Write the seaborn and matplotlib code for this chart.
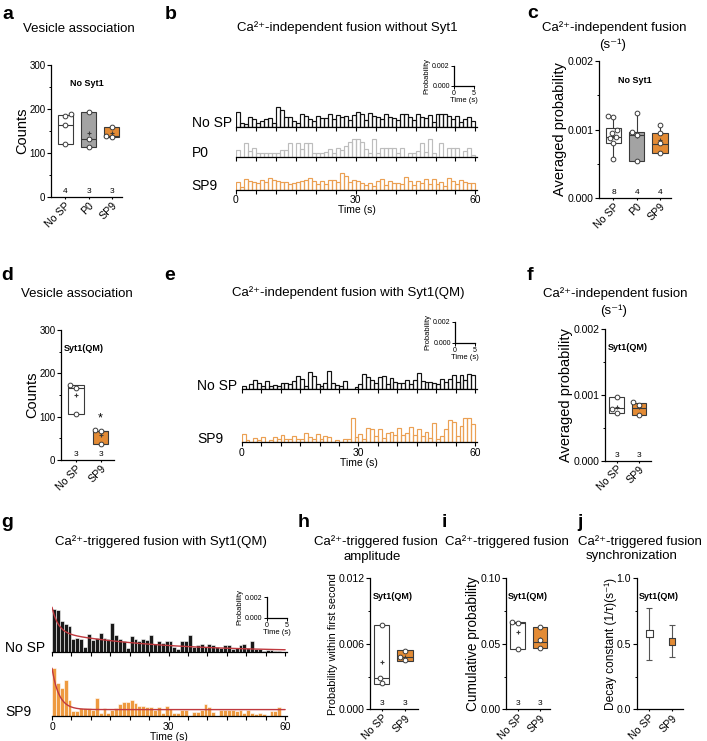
import numpy as np
import pandas as pd
import matplotlib
matplotlib.use("Agg")
import matplotlib.pyplot as plt
from matplotlib.ticker import FormatStrFormatter, MultipleLocator
import seaborn as sns

sns.set_theme(style="ticks")
plt.rcParams["font.family"] = ["Liberation Sans", "DejaVu Sans"]
plt.rcParams.update({
    "axes.edgecolor": "black",
    "axes.linewidth": 0.9,
    "text.color": "black",
    "axes.labelcolor": "black",
    "xtick.color": "black",
    "ytick.color": "black",
})

# ---------------- data ----------------
groups3 = ["No SP", "P0", "SP9"]
groups2 = ["No SP", "SP9"]
seconds = np.arange(60)

# box stats: (whisker low, q1, median, q3, whisker high, mean)
a_stats = [(121, 121, 163, 187, 187, 163), (114, 114, 132, 193, 193, 146), (136, 136, 139, 160, 160, 145)]
a_points = [[121, 163, 185, 188], [114, 132, 193], [136, 139, 160]]
a_n = [4, 3, 3]

c_stats = [(0.00057, 0.00080, 0.00089, 0.00102, 0.00120, 0.00090),
           (0.00054, 0.00054, 0.00092, 0.00097, 0.00124, 0.00090),
           (0.00066, 0.00066, 0.00079, 0.00095, 0.00106, 0.00085)]
c_points = [[0.00057, 0.00080, 0.00087, 0.00089, 0.00095, 0.00100, 0.00118, 0.00120],
            [0.00054, 0.00092, 0.00097, 0.00124],
            [0.00066, 0.00080, 0.00095, 0.00106]]
c_n = [8, 4, 4]

d_stats = [(107, 107, 167, 172, 172, 149), (38, 38, 66, 68, 68, 58)]
d_points = [[107, 167, 172], [38, 66, 69]]
d_n = [3, 3]

f_stats = [(0.00072, 0.00072, 0.00080, 0.00097, 0.00097, 0.00082),
           (0.00070, 0.00070, 0.00080, 0.00088, 0.00088, 0.00081)]
f_points = [[0.00072, 0.00078, 0.00097], [0.00070, 0.00085, 0.00089]]
f_n = [3, 3]

h_stats = [(0.0023, 0.0023, 0.0029, 0.0077, 0.0077, 0.0043), (0.0044, 0.0044, 0.0048, 0.0054, 0.0054, 0.0048)]
h_points = [[0.0024, 0.0029, 0.0077], [0.0045, 0.0048, 0.0053]]
h_n = [3, 3]

i_stats = [(0.046, 0.046, 0.066, 0.067, 0.067, 0.059), (0.047, 0.047, 0.051, 0.063, 0.063, 0.054)]
i_points = [[0.046, 0.066, 0.067], [0.047, 0.053, 0.063]]
i_n = [3, 3]

j_mean = [0.577, 0.516]
j_low = [0.376, 0.397]
j_high = [0.770, 0.644]

# per-second fusion probabilities (x 1e-3)
b_nosp = [1.55, 0.45, 0.3, 1.0, 0.8, 0.45, 0.6, 0.85, 0.9, 0.45, 2.0, 1.7, 1.0, 1.0, 0.6, 0.45, 1.3, 1.15, 0.8, 0.6,
          1.1, 0.9, 0.9, 1.3, 0.8, 1.25, 1.0, 1.1, 0.7, 1.2, 1.5, 1.3, 0.7, 1.45, 1.1, 1.0, 0.8, 1.3, 1.0, 0.9,
          0.7, 1.3, 1.3, 1.0, 0.7, 1.35, 1.0, 0.9, 1.2, 0.5, 1.3, 1.35, 1.35, 1.1, 0.8, 1.1, 0.5, 0.8, 1.0, 0.6]
b_p0 = [0.7, 0.0, 1.4, 0.6, 0.9, 0.4, 0.4, 0.4, 0.4, 0.4, 0.4, 0.7, 0.7, 1.4, 0.0, 1.4, 0.8, 1.4, 1.4, 0.4,
        0.4, 0.4, 0.5, 0.8, 0.4, 0.9, 0.7, 1.1, 1.5, 1.8, 1.8, 1.5, 0.8, 0.4, 1.8, 0.4, 0.9, 0.9, 0.9, 0.9,
        0.4, 0.9, 0.0, 0.4, 0.4, 0.6, 1.4, 0.5, 1.8, 0.4, 0.0, 1.4, 0.0, 0.9, 0.9, 0.9, 0.0, 0.6, 0.9, 0.2]
b_sp9 = [0.8, 0.3, 1.1, 0.9, 0.8, 0.7, 1.0, 0.8, 1.2, 1.0, 0.9, 0.8, 0.8, 0.6, 0.7, 0.8, 0.9, 1.0, 1.2, 0.9,
         0.6, 0.9, 0.6, 1.0, 1.0, 0.8, 1.7, 1.4, 0.8, 1.0, 0.9, 0.7, 0.5, 0.7, 0.4, 0.9, 1.1, 0.5, 0.9, 0.7,
         0.7, 0.6, 1.3, 0.9, 0.5, 0.9, 0.7, 1.1, 0.6, 1.1, 0.6, 0.8, 0.4, 1.2, 0.9, 0.6, 1.0, 0.8, 0.7, 0.7]

e_nosp = [0.3, 0.0, 0.5, 0.85, 0.6, 0.3, 0.8, 0.3, 0.4, 0.3, 0.6, 0.6, 0.5, 0.8, 1.3, 1.0, 0.3, 1.65, 1.3, 0.5,
          0.3, 0.6, 1.7, 0.6, 0.4, 0.3, 0.8, 0.0, 0.0, 0.2, 0.5, 1.5, 1.2, 0.9, 0.6, 1.2, 1.3, 0.5, 1.1, 0.7,
          0.6, 0.6, 0.9, 0.5, 0.9, 1.6, 0.8, 0.7, 0.7, 0.6, 0.5, 1.0, 0.7, 1.0, 1.4, 0.7, 1.4, 0.9, 1.5, 1.4]
e_sp9 = [0.8, 0.2, 0.0, 0.4, 0.2, 0.5, 0.0, 0.2, 0.5, 0.3, 0.7, 0.3, 0.3, 0.6, 0.3, 0.3, 0.9, 0.5, 0.3, 0.8,
         0.3, 0.6, 0.5, 0.0, 0.2, 0.0, 0.3, 0.3, 2.3, 0.5, 0.8, 0.3, 1.3, 1.2, 0.6, 1.2, 0.4, 0.9, 1.0, 0.7,
         1.3, 0.7, 0.9, 1.4, 0.7, 1.2, 0.6, 1.0, 0.4, 1.8, 0.3, 0.6, 1.2, 2.1, 1.9, 0.6, 1.5, 2.3, 2.3, 1.7]

g_nosp = [4.1, 4.0, 3.0, 2.7, 2.5, 1.2, 1.3, 1.2, 0.5, 1.7, 1.1, 1.3, 1.8, 1.3, 1.2, 2.8, 1.6, 1.2, 1.0, 0.4,
          1.5, 1.2, 1.0, 1.2, 1.1, 1.6, 0.7, 1.0, 0.8, 1.0, 1.0, 0.5, 0.3, 1.0, 1.0, 1.6, 0.5, 0.6, 0.7, 0.5,
          0.7, 0.6, 0.5, 0.4, 0.6, 0.6, 0.3, 0.4, 0.6, 0.7, 0.4, 1.0, 0.3, 0.3, 0.1, 0.2, 0.2, 0.1, 0.1, 0.0]
g_sp9 = [4.6, 3.2, 2.7, 3.5, 1.5, 0.5, 0.5, 0.8, 0.8, 0.8, 0.6, 1.7, 0.3, 0.8, 0.3, 0.6, 0.8, 1.2, 1.4, 1.4,
         1.5, 1.3, 1.0, 1.0, 0.9, 0.9, 0.6, 0.9, 0.3, 1.0, 0.7, 0.3, 0.3, 0.6, 0.6, 0.0, 0.4, 0.4, 0.6, 1.2,
         0.9, 0.4, 0.0, 0.6, 0.6, 0.6, 0.6, 0.5, 0.6, 0.3, 0.6, 0.3, 0.2, 0.3, 0.2, 0.0, 0.5, 0.5, 0.9, 0.0]

# exponential fits drawn in g (x 1e-3)
g_nosp_fit = dict(a_fast=2.4, tau_fast=1.6, a_slow=1.9, tau_slow=26.0, base=0.0)
g_sp9_fit = dict(a_fast=4.0, tau_fast=1.8, a_slow=0.0, tau_slow=1.0, base=0.62)

# ---------------- styling ----------------
EDGE = "#3a3a3a"
ORANGE = "#E38B35"
GREY = "#A3A3A3"
RED = "#C0393F"
W, H = 707, 741

fig = plt.figure(figsize=(W / 100, H / 100), dpi=100)


def px_box(l, t, r, b):
    return [l / W, 1 - b / H, (r - l) / W, (b - t) / H]


def ftext(x, y, s, **kw):
    fig.text(x / W, 1 - y / H, s, **kw)


def style_cat_axes(ax, groups, ylim, step, fmt, ylabel, ylsize, tsize):
    ax.set_ylim(*ylim)
    ax.yaxis.set_major_locator(MultipleLocator(step))
    ax.yaxis.set_minor_locator(MultipleLocator(step / 2))
    ax.yaxis.set_major_formatter(FormatStrFormatter(fmt))
    ax.set_xticks(range(len(groups)))
    ax.set_xticklabels(groups, rotation=45, ha="right", rotation_mode="anchor", fontsize=7.6)
    ax.tick_params(axis="y", which="major", length=3, width=0.8, labelsize=tsize, pad=1)
    ax.tick_params(axis="y", which="minor", length=1.8, width=0.7)
    ax.tick_params(axis="x", length=1.5, width=0.8, pad=1)
    ax.set_xlabel("")
    ax.set_ylabel(ylabel, fontsize=ylsize, labelpad=0)
    sns.despine(ax=ax)


def box_panel(rect, groups, stats, points, colors, xlim, ylim, step, fmt, ylabel, ylsize, tsize, tag, ns):
    ax = fig.add_axes(px_box(*rect))
    bstats = [dict(whislo=s[0], q1=s[1], med=s[2], q3=s[3], whishi=s[4], mean=s[5], label=g)
              for s, g in zip(stats, groups)]
    bp = ax.bxp(bstats, positions=range(len(groups)), widths=0.65, patch_artist=True, showmeans=True,
                showfliers=False, showcaps=False, manage_ticks=False,
                boxprops=dict(edgecolor=EDGE, linewidth=0.8),
                medianprops=dict(color=EDGE, linewidth=0.8),
                whiskerprops=dict(color=EDGE, linewidth=0.8),
                meanprops=dict(marker="+", markeredgecolor=EDGE, markersize=3.5, markeredgewidth=0.8))
    for patch, c in zip(bp["boxes"], colors):
        patch.set_facecolor(c)
    df = pd.DataFrame({"group": np.repeat(groups, [len(p) for p in points]),
                       "value": np.concatenate(points)})
    sns.swarmplot(data=df, x="group", y="value", order=groups, color="white", edgecolor=EDGE,
                  linewidth=0.7, size=3.4, ax=ax, zorder=4)
    ax.set_xlim(*xlim)
    style_cat_axes(ax, groups, ylim, step, fmt, ylabel, ylsize, tsize)
    ax.text(0.05 if len(groups) == 2 else 0.5, 0.86, tag, transform=ax.transAxes, fontsize=6.5,
            fontweight="bold", ha="left" if len(groups) == 2 else "center", va="center")
    for k, n in enumerate(ns):
        ax.text(k, 0.015, str(n), transform=ax.get_xaxis_transform(), ha="center", va="bottom", fontsize=6)
    return ax


def hist_row(l, r, base, px_per_milli, vals, color, filled, show_labels):
    hpx = 60
    ax = fig.add_axes(px_box(l, base - hpx, r, base))
    ax.patch.set_alpha(0)
    if filled:
        kw = dict(color=color, edgecolor="white", linewidth=0.4, alpha=1)
    else:
        kw = dict(color=color, linewidth=0.85)
    df = pd.DataFrame({"t": seconds + 0.5, "p": np.array(vals) * 1e-3})
    sns.histplot(data=df, x="t", weights="p", bins=60, binrange=(0, 60), fill=filled,
                 element="bars", ax=ax, **kw)
    ax.set_xlim(0, 60.4)
    ax.set_ylim(0, hpx / px_per_milli * 1e-3)
    sns.despine(ax=ax, left=True)
    ax.set_yticks([])
    ax.set_ylabel("")
    ax.set_xlabel("")
    ticks = np.arange(0, 61, 5)
    ax.set_xticks(ticks)
    ax.set_xticklabels([str(v) if (show_labels and v % 30 == 0) else "" for v in ticks])
    ax.tick_params(axis="x", length=3, width=0.8, pad=1, labelsize=7.5)
    if show_labels:
        ax.set_xlabel("Time (s)", fontsize=7.5, labelpad=0)
    return ax


def scale_bar(l, t, r, b):
    ax = fig.add_axes(px_box(l, t, r, b))
    ax.patch.set_alpha(0)
    ax.set_xlim(0, 5)
    ax.set_ylim(0, 0.002)
    ax.set_xticks([0, 5])
    ax.set_yticks([0, 0.002])
    ax.yaxis.set_major_formatter(FormatStrFormatter("%.3f"))
    ax.tick_params(labelsize=5, length=2, pad=1, width=0.7)
    ax.set_xlabel("Time (s)", fontsize=5.5, labelpad=0)
    ax.set_ylabel("Probability", fontsize=5.5, labelpad=1)
    sns.despine(ax=ax)


def fit_curve(p, t):
    return p["a_fast"] * np.exp(-t / p["tau_fast"]) + p["a_slow"] * np.exp(-t / p["tau_slow"]) + p["base"]


# ---------------- panel letters and titles ----------------
for letter, x, y in [("a", 2, 19), ("b", 165, 19), ("c", 527, 18), ("d", 1, 280), ("e", 164, 280),
                     ("f", 527, 280), ("g", 1, 527), ("h", 298, 527), ("i", 442, 527), ("j", 577, 527)]:
    ftext(x, y, letter, fontsize=14, fontweight="bold", va="baseline")

title_kw = dict(fontsize=9.5, ha="center", va="baseline")
ftext(79, 32, "Vesicle association", **title_kw)
ftext(347, 31, "Ca²⁺-independent fusion without Syt1", **title_kw)
ftext(614, 31, "Ca²⁺-independent fusion", **title_kw)
ftext(613, 48, "(s⁻¹)", **title_kw)
ftext(77, 297, "Vesicle association", **title_kw)
ftext(348, 296, "Ca²⁺-independent fusion with Syt1(QM)", **title_kw)
ftext(615, 297, "Ca²⁺-independent fusion", **title_kw)
ftext(614, 314, "(s⁻¹)", **title_kw)
ftext(161, 545, "Ca²⁺-triggered fusion with Syt1(QM)", **title_kw)
ftext(376, 545, "Ca²⁺-triggered fusion", **title_kw)
ftext(372, 560, "amplitude", **title_kw)
ftext(507, 545, "Ca²⁺-triggered fusion", **title_kw)
ftext(640, 545, "Ca²⁺-triggered fusion", **title_kw)
ftext(632, 559, "synchronization", **title_kw)

# ---------------- a ----------------
box_panel((51, 65, 122, 197), groups3, a_stats, a_points, ["white", GREY, ORANGE], (-0.62, 2.44),
          (0, 300), 100, "%d", "Counts", 10.5, 7.0, "No Syt1", a_n)

# ---------------- b ----------------
row_kw = dict(fontsize=10, va="baseline")
for (base, vals, color, lab), last in zip([(127, b_nosp, "#111111", "No SP"), (157, b_p0, "#BDBDBD", "P0"),
                                           (189.5, b_sp9, "#EBA053", "SP9")], [False, False, True]):
    hist_row(236, 477, base, 10, vals, color, False, last)
    ftext(191.5, base, lab, **row_kw)
scale_bar(454, 66, 474, 86)

# ---------------- c ----------------
box_panel((599, 61, 671, 198), groups3, c_stats, c_points, ["white", GREY, ORANGE], (-0.62, 2.47),
          (0, 0.002), 0.001, "%.3f", "Averaged probability", 10.5, 7.6, "No Syt1", c_n)

# ---------------- d ----------------
ax_d = box_panel((61, 330, 114, 460), groups2, d_stats, d_points, ["white", ORANGE], (-0.61, 1.55),
                 (0, 300), 100, "%d", "Counts", 10.5, 7.0, "Syt1(QM)", d_n)
ax_d.text(1, d_stats[1][4] + 14, "*", ha="center", va="bottom", fontsize=9)

# ---------------- e ----------------
for (base, vals, color, lab), last in zip([(389.3, e_nosp, "#111111", "No SP"), (442, e_sp9, "#EBA053", "SP9")],
                                          [False, True]):
    hist_row(241.7, 476.7, base, 10.5, vals, color, False, last)
    ftext(197, base + 1, lab, **row_kw)
scale_bar(455, 321.7, 475, 342.7)

# ---------------- f ----------------
box_panel((605, 329.3, 651, 460.7), groups2, f_stats, f_points, ["white", ORANGE], (-0.52, 1.55),
          (0, 0.002), 0.001, "%.3f", "Averaged probability", 10.5, 7.6, "Syt1(QM)", f_n)

# ---------------- g ----------------
t_fit = np.linspace(0, 60, 400)
for (base, vals, color, lab, fit), last in zip([(651.7, g_nosp, "#1a1a1a", "No SP", g_nosp_fit),
                                                (716, g_sp9, "#EE9A40", "SP9", g_sp9_fit)], [False, True]):
    ax = hist_row(52, 286.7, base, 10.35, vals, color, True, last)
    sns.lineplot(x=t_fit, y=fit_curve(fit, t_fit) * 1e-3, color=RED, linewidth=1.0, ax=ax)
    ftext(5, base, lab, **row_kw)
scale_bar(266.7, 597, 287, 617.7)

# ---------------- h ----------------
box_panel((370, 578.3, 418, 709.3), groups2, h_stats, h_points, ["white", ORANGE], (-0.5, 1.56),
          (0, 0.012), 0.006, "%.3f", "Probability within first second", 7.8, 7.6, "Syt1(QM)", h_n)

# ---------------- i ----------------
box_panel((506, 578.3, 550, 709.3), groups2, i_stats, i_points, ["white", ORANGE], (-0.52, 1.46),
          (0, 0.10), 0.05, "%.2f", "Cumulative probability", 9.8, 7.6, "Syt1(QM)", i_n)

# ---------------- j ----------------
ax_j = fig.add_axes(px_box(636.7, 578.3, 683, 709.3))
xj = np.arange(len(groups2))
ax_j.errorbar(xj, j_mean, yerr=[np.subtract(j_mean, j_low), np.subtract(j_high, j_mean)], fmt="none",
              ecolor="#555555", elinewidth=0.8, capsize=2, capthick=0.8)
sns.scatterplot(x=xj, y=j_mean, hue=groups2, palette=["white", ORANGE], marker="s", s=22, edgecolor=EDGE,
                linewidth=0.8, legend=False, ax=ax_j, zorder=4)
ax_j.set_xlim(-0.55, 1.47)
style_cat_axes(ax_j, groups2, (0, 1.0), 0.5, "%.1f", "Decay constant (1/τ)(s⁻¹)", 8.6, 7.6)
ax_j.text(0.05, 0.86, "Syt1(QM)", transform=ax_j.transAxes, fontsize=6.5, fontweight="bold", va="center")

fig.savefig("out.png", dpi=100)
